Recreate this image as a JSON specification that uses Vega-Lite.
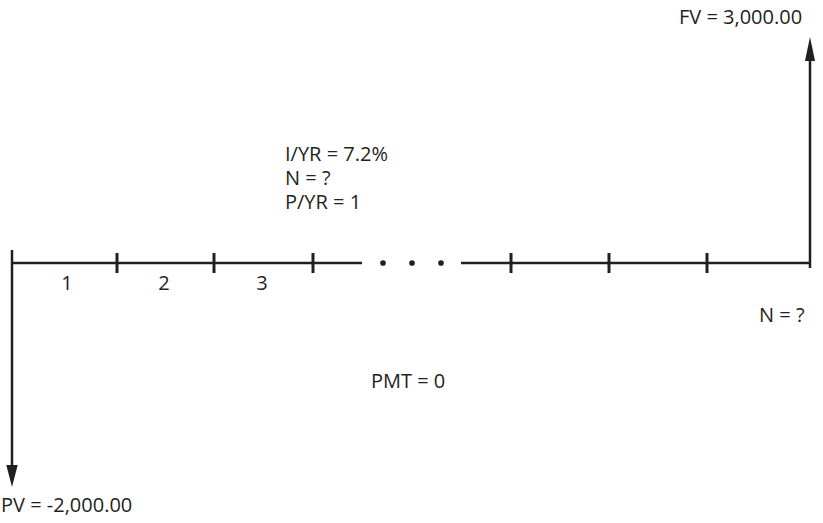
{
  "$schema": "https://vega.github.io/schema/vega-lite/v6.json",
  "width": 823,
  "height": 523,
  "padding": 0,
  "autosize": {"type": "fit", "contains": "padding"},
  "config": {"view": {"stroke": null}, "font": "Open Sans"},
  "datasets": {
    "segs": [
      {"x": 12, "y": 263, "x2": 362, "y2": 263, "w": 2.5},
      {"x": 461, "y": 263, "x2": 810, "y2": 263, "w": 2.5},
      {"x": 12, "y": 250, "x2": 12, "y2": 468, "w": 2.5},
      {"x": 810, "y": 268, "x2": 810, "y2": 55, "w": 2.5},
      {"x": 117, "y": 253, "x2": 117, "y2": 273, "w": 3},
      {"x": 214, "y": 253, "x2": 214, "y2": 273, "w": 3},
      {"x": 313, "y": 253, "x2": 313, "y2": 273, "w": 3},
      {"x": 511, "y": 253, "x2": 511, "y2": 273, "w": 3},
      {"x": 609, "y": 253, "x2": 609, "y2": 273, "w": 3},
      {"x": 707, "y": 253, "x2": 707, "y2": 273, "w": 3}
    ],
    "dots": [
      {"x": 383, "y": 263},
      {"x": 412, "y": 263},
      {"x": 441, "y": 263}
    ],
    "arrows": [
      {"x": 12, "y": 476, "dir": "down"},
      {"x": 810, "y": 49, "dir": "up"}
    ],
    "labels": [
      {"x": 67, "y": 284, "label": "1", "align": "center"},
      {"x": 164, "y": 284, "label": "2", "align": "center"},
      {"x": 262, "y": 284, "label": "3", "align": "center"},
      {"x": 759, "y": 316, "label": "N = ?", "align": "left"},
      {"x": 371, "y": 382, "label": "PMT = 0", "align": "left"},
      {"x": 1, "y": 506, "label": "PV = -2,000.00", "align": "left"},
      {"x": 679, "y": 18, "label": "FV = 3,000.00", "align": "left"},
      {"x": 285, "y": 155, "label": "I/YR = 7.2%\nN = ?\nP/YR = 1", "align": "left"}
    ]
  },
  "encoding": {
    "x": {"type": "quantitative", "scale": {"domain": [0, 823], "nice": false, "zero": false}, "axis": null},
    "y": {"type": "quantitative", "scale": {"domain": [0, 523], "nice": false, "zero": false, "reverse": true}, "axis": null}
  },
  "layer": [
    {
      "data": {"name": "segs"},
      "mark": {"type": "rule", "color": "#231f20"},
      "encoding": {
        "x": {"field": "x", "type": "quantitative"},
        "y": {"field": "y", "type": "quantitative"},
        "x2": {"field": "x2"},
        "y2": {"field": "y2"},
        "strokeWidth": {"field": "w", "type": "quantitative", "scale": null}
      }
    },
    {
      "data": {"name": "dots"},
      "mark": {"type": "point", "filled": true, "color": "#231f20", "size": 32, "opacity": 1},
      "encoding": {
        "x": {"field": "x", "type": "quantitative"},
        "y": {"field": "y", "type": "quantitative"}
      }
    },
    {
      "data": {"name": "arrows"},
      "transform": [{"filter": "datum.dir === 'up'"}],
      "mark": {"type": "point", "filled": true, "color": "#231f20", "opacity": 1, "size": 576, "shape": "M -0.42 1 L 0 -1 L 0.42 1 Z"},
      "encoding": {
        "x": {"field": "x", "type": "quantitative"},
        "y": {"field": "y", "type": "quantitative"}
      }
    },
    {
      "data": {"name": "arrows"},
      "transform": [{"filter": "datum.dir === 'down'"}],
      "mark": {"type": "point", "filled": true, "color": "#231f20", "opacity": 1, "size": 484, "shape": "M -0.52 -1 L 0 1 L 0.52 -1 Z"},
      "encoding": {
        "x": {"field": "x", "type": "quantitative"},
        "y": {"field": "y", "type": "quantitative"}
      }
    },
    {
      "data": {"name": "labels"},
      "transform": [{"filter": "datum.align === 'left'"}],
      "mark": {"type": "text", "fontSize": 20, "color": "#231f20", "baseline": "middle", "align": "left", "lineBreak": "\n", "lineHeight": 24},
      "encoding": {
        "x": {"field": "x", "type": "quantitative"},
        "y": {"field": "y", "type": "quantitative"},
        "text": {"field": "label"}
      }
    },
    {
      "data": {"name": "labels"},
      "transform": [{"filter": "datum.align === 'center'"}],
      "mark": {"type": "text", "fontSize": 20, "color": "#231f20", "baseline": "middle", "align": "center"},
      "encoding": {
        "x": {"field": "x", "type": "quantitative"},
        "y": {"field": "y", "type": "quantitative"},
        "text": {"field": "label"}
      }
    }
  ]
}
